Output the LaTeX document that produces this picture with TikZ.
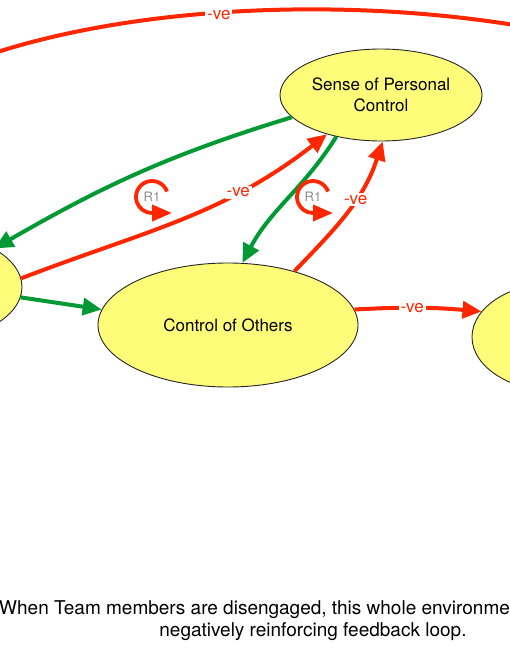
\documentclass[tikz,border=0pt]{standalone}
\usepackage{fontspec}
\setmainfont{TeX Gyre Heros}
\usetikzlibrary{shapes.geometric,arrows.meta}
\definecolor{negred}{RGB}{255,38,0}
\definecolor{posgreen}{RGB}{0,153,51}
\definecolor{banana}{RGB}{255,252,121}

\begin{document}
\begin{tikzpicture}[x=1pt,y=1pt,
  factor/.style={ellipse, draw=black!85, line width=0.9pt, fill=banana, inner sep=0pt, align=center, font=\fontsize{17}{20.5}\selectfont},
  plus/.style={draw=posgreen, line width=4pt, -{Triangle[length=19pt,width=17pt]}},
  minus/.style={draw=negred, line width=4pt, -{Triangle[length=19pt,width=17pt]}},
  vel/.style={fill=white, text=negred, inner sep=2pt, font=\fontsize{17}{20}\selectfont},
  loopname/.style={text=black!45, inner sep=0pt, font=\fontsize{13}{15}\selectfont},
  r1loop/.style={draw=negred, line width=3.8pt, -{Triangle[length=20pt,width=16pt]}}]
\useasboundingbox (0,0) rectangle (510,-650);
\clip (0,0) rectangle (510,-650);
\node[factor, minimum width=202pt, minimum height=92pt] (sense) at (381,-95) {Sense of Personal\\Control};
\node[factor, minimum width=260pt, minimum height=124pt] (control) at (228,-325) {Control of Others};
\node[factor, minimum width=200pt, minimum height=110pt] (offleft) at (-78,-287) {};
\node[factor, minimum width=176pt, minimum height=110pt] (offright) at (560,-337) {};
\coordinate (farleft) at (-150,-130);
\coordinate (farright) at (816,-140);
\draw[minus] (farright) .. controls (616,28) and (50,32.7) .. node[vel,pos=0.6] {-ve} (farleft);
\draw[plus] (sense.194) to[out=197,in=30] (offleft.28);
\draw[minus] (offleft.5) to[out=21,in=218] node[vel,pos=0.7] {-ve} (sense.216);
\draw[plus] (sense.223) to[out=238,in=62] (control.77);
\draw[minus] (control.39) to[out=46,in=252] node[vel,pos=0.6] {-ve} (sense.272);
\draw[plus] (offleft.-6) -- (control.173);
\draw[minus] (control.7) to[out=3,in=175] node[vel,pos=0.45] {-ve} (offright.162);
\foreach \cx/\cy [count=\i] in {152/197, 313/197}
{
  \node[loopname] (r\i) at (\cx,-\cy) {R1};
  \draw[r1loop] (r\i.center) ++(20:16) arc[start angle=20,end angle=270,radius=16] -- ++(20,0);
}
\node[anchor=west, inner sep=0pt, font=\fontsize{19}{22}\selectfont] (note1) at (-1,-610) {When Team members are disengaged, this whole environment};
\node[inner sep=0pt, font=\fontsize{19}{22}\selectfont] (note2) at (313,-632) {negatively reinforcing feedback loop.};
\end{tikzpicture}
\end{document}
